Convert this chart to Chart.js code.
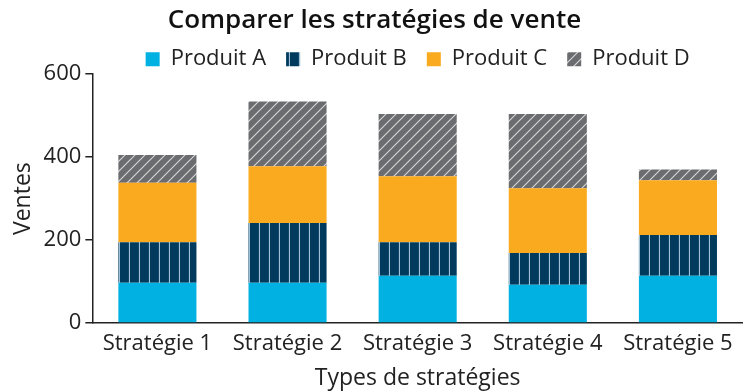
<!DOCTYPE html>
<html lang="fr">
<head>
<meta charset="utf-8">
<script src="https://cdn.jsdelivr.net/npm/chart.js@4.4.1/dist/chart.umd.min.js"></script>
<style>
  html, body { margin: 0; padding: 0; background: #fff; }
  #wrap { width: 743px; height: 392px; }
</style>
</head>
<body>
<div id="wrap"><canvas id="salesChart"></canvas></div>
<script>
const strategies = ["Stratégie 1", "Stratégie 2", "Stratégie 3", "Stratégie 4", "Stratégie 5"];
const produitA = [97, 97, 114, 92, 114];
const produitB = [98, 144, 81, 77, 98];
const produitC = [143, 137, 159, 156, 132];
const produitD = [67, 156, 150, 179, 26];
const yTicks = [0, 200, 400, 600];

// Motifs de remplissage : rayures verticales et hachures diagonales
function stripes(base, line, diagonal) {
  const c = document.createElement("canvas");
  c.width = 10; c.height = 10;
  const g = c.getContext("2d");
  g.fillStyle = base;
  g.fillRect(0, 0, 10, 10);
  g.strokeStyle = line;
  g.lineWidth = 1.2;
  g.beginPath();
  if (diagonal) {
    g.moveTo(0, 10); g.lineTo(10, 0);
    g.moveTo(-5, 5); g.lineTo(5, -5);
    g.moveTo(5, 15); g.lineTo(15, 5);
  } else {
    g.moveTo(9.5, 0); g.lineTo(9.5, 10);
  }
  g.stroke();
  return g.createPattern(c, "repeat");
}

// La légende garde un espacement large entre les entrées sans pousser le graphique vers le bas
const compactLegend = {
  id: "compactLegend",
  afterInit(chart) {
    const legend = chart.legend;
    const fit = legend.fit;
    legend.fit = function () {
      fit.call(this);
      this.height -= 6;
    };
  }
};

const font = "'Open Sans', 'Noto Sans', sans-serif";
const ink = "#222";

new Chart(document.getElementById("salesChart"), {
  type: "bar",
  data: {
    labels: strategies,
    datasets: [
      {label: "Produit A", data: produitA, backgroundColor: "#00b1e1"},
      {label: "Produit B", data: produitB, backgroundColor: stripes("#003b5e", "#9fbfd6", false)},
      {label: "Produit C", data: produitC, backgroundColor: "#f9aa1e"},
      {label: "Produit D", data: produitD, backgroundColor: stripes("#6b6c6f", "#d4d4d4", true)}
    ]
  },
  plugins: [compactLegend],
  options: {
    responsive: true,
    maintainAspectRatio: false,
    animation: false,
    categoryPercentage: 0.6,
    barPercentage: 1,
    layout: {padding: {left: 6, right: 0, top: 0, bottom: -4}},
    plugins: {
      title: {
        display: true,
        text: "Comparer les stratégies de vente",
        color: "#111",
        font: {family: font, size: 26, weight: "600"},
        padding: {top: 5, bottom: -8}
      },
      legend: {
        position: "top",
        fullSize: false,
        labels: {
          color: ink,
          font: {family: font, size: 22},
          boxWidth: 14,
          boxHeight: 14,
          padding: 20
        }
      },
      tooltip: {enabled: false}
    },
    scales: {
      x: {
        stacked: true,
        grid: {display: false},
        border: {display: true, color: "#222", width: 1.5},
        ticks: {color: ink, font: {family: font, size: 22}, maxRotation: 0, padding: 0},
        title: {display: true, text: "Types de stratégies", color: ink, font: {family: font, size: 23}, padding: {top: 7}}
      },
      y: {
        stacked: true,
        min: 0,
        max: 600,
        afterBuildTicks: axis => { axis.ticks = yTicks.map(v => ({value: v})); },
        grid: {display: true, drawOnChartArea: false, drawTicks: true, tickLength: 7, color: "#222", lineWidth: 1.5},
        border: {display: true, color: "#222", width: 1.5},
        ticks: {color: ink, font: {family: font, size: 22}, padding: 4},
        title: {display: true, text: "Ventes", color: ink, font: {family: font, size: 23}, padding: {bottom: 2}}
      }
    }
  }
});
</script>
</body>
</html>
